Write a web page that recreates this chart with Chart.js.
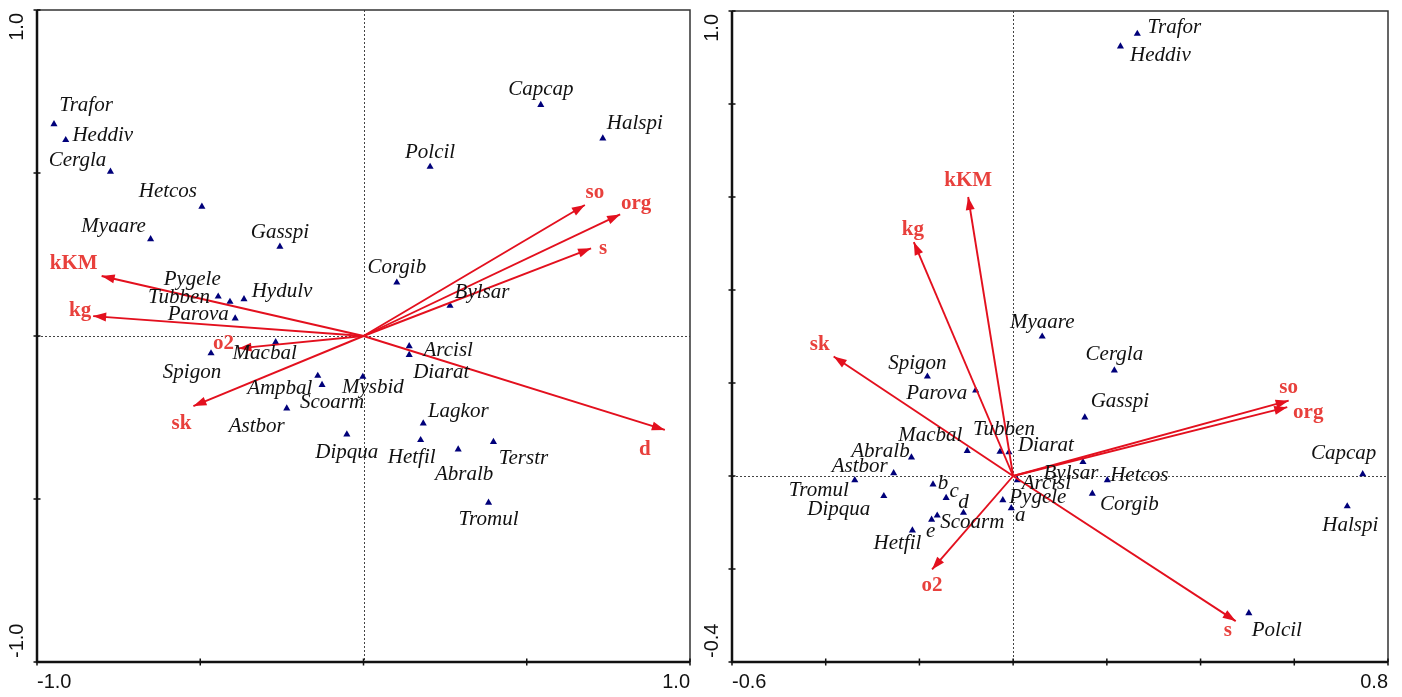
<!DOCTYPE html>
<html>
<head>
<meta charset="utf-8">
<script src="https://cdn.jsdelivr.net/npm/chart.js@4.4.1/dist/chart.umd.min.js"></script>
<style>
  html, body { margin: 0; padding: 0; background: #fff; }
  #wrap { position: relative; width: 1402px; height: 697px; overflow: hidden; }
  canvas { position: absolute; top: 0; }
</style>
</head>
<body>
<div id="wrap">
  <canvas id="ordLeft" width="700" height="697" style="left:0"></canvas>
  <canvas id="ordRight" width="702" height="697" style="left:700px"></canvas>
</div>
<script>
// ---------- Left ordination: species scores ----------
const leftSpecies = ['Trafor','Heddiv','Cergla','Hetcos','Myaare','Gasspi','Pygele','Tubben','Hydulv','Parova',
  'Macbal','Spigon','Ampbal','Scoarm','Astbor','Mysbid','Dipqua','Arcisl','Diarat','Lagkor',
  'Hetfil','Abralb','Terstr','Tromul','Corgib','Bylsar','Polcil','Capcap','Halspi'];
const leftSpeciesX = [-0.948,-0.912,-0.775,-0.495,-0.652,-0.256,-0.445,-0.409,-0.366,-0.393,
  -0.269,-0.467,-0.140,-0.127,-0.235,-0.002,-0.051,0.140,0.140,0.183,
  0.175,0.290,0.398,0.383,0.102,0.265,0.204,0.543,0.733];
const leftSpeciesY = [0.650,0.601,0.504,0.397,0.297,0.274,0.121,0.105,0.113,0.054,
  -0.019,-0.053,-0.122,-0.150,-0.222,-0.125,-0.302,-0.031,-0.058,-0.268,
  -0.319,-0.348,-0.325,-0.511,0.164,0.093,0.519,0.709,0.606];

// Left ordination: environmental variable vectors
const leftVars = ['so','org','s','d','kKM','kg','o2','sk'];
const leftVarsX = [0.678,0.786,0.697,0.923,-0.802,-0.828,-0.383,-0.521];
const leftVarsY = [0.402,0.373,0.269,-0.288,0.184,0.061,-0.038,-0.215];

// ---------- Right ordination: species and site scores ----------
const rightSpecies = ['Trafor','Heddiv','Myaare','Cergla','Gasspi','Capcap','Halspi','Polcil','Hetcos','Corgib',
  'Bylsar','Spigon','Parova','Macbal','Tubben','Diarat','Abralb','Astbor','Tromul','Dipqua',
  'Scoarm','Hetfil','Arcisl','Pygele','a','b','c','d','e'];
const rightSpeciesX = [0.265,0.229,0.062,0.216,0.153,0.746,0.713,0.503,0.201,0.169,
  0.149,-0.183,-0.080,-0.098,-0.028,-0.009,-0.217,-0.255,-0.338,-0.276,
  -0.162,-0.215,0.009,-0.022,-0.004,-0.171,-0.143,-0.106,-0.174];
const rightSpeciesY = [0.951,0.924,0.300,0.227,0.126,0.004,-0.065,-0.295,-0.009,-0.038,
  0.030,0.214,0.184,0.054,0.052,0.051,0.040,0.006,-0.009,-0.043,
  -0.085,-0.117,-0.009,-0.052,-0.069,-0.018,-0.047,-0.079,-0.094];

// Right ordination: environmental variable vectors
const rightVars = ['kKM','kg','sk','o2','s','so','org'];
const rightVarsX = [-0.096,-0.212,-0.383,-0.173,0.475,0.588,0.585];
const rightVarsY = [0.600,0.503,0.257,-0.201,-0.312,0.162,0.148];

// Axis end labels
const leftXTickLabels = ['-1.0','1.0'];
const leftYTickLabels = ['-1.0','1.0'];
const rightXTickLabels = ['-0.6','0.8'];
const rightYTickLabels = ['-0.4','1.0'];

// ---------- Label placement (pixel offsets from each marker) ----------
const leftSpeciesOffsets = [[32,-19],[37,-5],[-33,-11],[-34,-15],[-37,-13],[0,-14],[-26,-17],[-51,-4],[38,-8],[-37,-4],
  [-11,11],[-19,19],[-38,13],[10,18],[-30,18],[10,11],[0,18],[39,4],[32,18],[35,-12],
  [-9,17],[6,25],[30,17],[0,17],[0,-15],[32,-13],[0,-14],[0,-15],[32,-15]];
const leftVarOffsets = [[10,-12],[16,-11],[12,0],[-20,20],[-28,-12],[-13,-6],[-15,-5],[-12,17]];

const rightSpeciesOffsets = [[37,-6],[40,9],[0,-14],[0,-16],[35,-16],[-19,-21],[3,19],[28,17],[32,-5],[37,11],
  [-12,11],[-10,-13],[-39,3],[-37,-15],[4,-22],[37,-7],[-31,-6],[-34,-7],[-36,10],[-45,13],
  [35,7],[-15,13],[29,3],[35,-3],[9,7],[10,-1],[8,-6],[0,-10],[-1,12]];
const rightVarOffsets = [[0,-16],[-1,-13],[-14,-12],[0,16],[-8,9],[0,-13],[21,5]];

const ARROW_RED = '#e3101e';
const LABEL_RED = '#e8403c';
const POINT_BLUE = '#00007a';

// Draws the zero lines, arrowheads, text labels and axis frame on top of the scatter.
const biplotPlugin = {
  id: 'biplot',
  beforeDatasetsDraw(chart) {
    const { ctx, chartArea: a, scales: { x, y } } = chart;
    const x0 = Math.round(x.getPixelForValue(0)) + 0.5;
    const y0 = Math.round(y.getPixelForValue(0)) + 0.5;
    ctx.save();
    ctx.strokeStyle = '#444';
    ctx.lineWidth = 1;
    ctx.setLineDash([2, 2]);
    ctx.beginPath();
    ctx.moveTo(x0, a.top); ctx.lineTo(x0, a.bottom);
    ctx.moveTo(a.left, y0); ctx.lineTo(a.right, y0);
    ctx.stroke();
    ctx.restore();
  },
  afterDatasetsDraw(chart, args, opts) {
    const { ctx, chartArea: a, scales: { x, y } } = chart;
    ctx.save();

    // arrowheads at the tip of every vector
    chart.data.datasets.forEach((ds, i) => {
      if (!ds.isVector) return;
      const pts = chart.getDatasetMeta(i).data;
      const p0 = pts[0], p1 = pts[1];
      const ang = Math.atan2(p1.y - p0.y, p1.x - p0.x);
      const len = 13, half = 4.5;
      ctx.fillStyle = ARROW_RED;
      ctx.beginPath();
      ctx.moveTo(p1.x, p1.y);
      ctx.lineTo(p1.x - len * Math.cos(ang) + half * Math.sin(ang), p1.y - len * Math.sin(ang) - half * Math.cos(ang));
      ctx.lineTo(p1.x - len * Math.cos(ang) - half * Math.sin(ang), p1.y - len * Math.sin(ang) + half * Math.cos(ang));
      ctx.closePath();
      ctx.fill();
      // vector name
      const off = opts.varOffsets[ds.vectorIndex];
      ctx.font = 'bold 21px "Liberation Serif", "Times New Roman", serif';
      ctx.fillStyle = LABEL_RED;
      ctx.textAlign = 'center';
      ctx.textBaseline = 'middle';
      ctx.fillText(ds.label, p1.x + off[0], p1.y + off[1]);
    });

    // species names
    const spIdx = chart.data.datasets.findIndex(d => d.isSpecies);
    const spMeta = chart.getDatasetMeta(spIdx);
    const spData = chart.data.datasets[spIdx].data;
    ctx.font = 'italic 21px "Liberation Serif", "Times New Roman", serif';
    ctx.fillStyle = '#111';
    ctx.textAlign = 'center';
    ctx.textBaseline = 'middle';
    spMeta.data.forEach((el, i) => {
      const off = opts.speciesOffsets[i];
      ctx.fillText(spData[i].name, el.x + off[0], el.y + off[1]);
    });

    // frame: heavy left/bottom axes, light top/right edges
    ctx.strokeStyle = '#333';
    ctx.lineWidth = 1.5;
    ctx.beginPath();
    ctx.moveTo(a.left, a.top); ctx.lineTo(a.right, a.top); ctx.lineTo(a.right, a.bottom);
    ctx.stroke();
    ctx.strokeStyle = '#111';
    ctx.lineWidth = 2.5;
    ctx.beginPath();
    ctx.moveTo(a.left, a.top); ctx.lineTo(a.left, a.bottom); ctx.lineTo(a.right, a.bottom);
    ctx.stroke();

    // tick marks crossing the axes
    ctx.lineWidth = 1.5;
    ctx.beginPath();
    for (let v = x.min; v <= x.max + 1e-9; v += opts.step) {
      const px = x.getPixelForValue(v);
      ctx.moveTo(px, a.bottom - 3.5); ctx.lineTo(px, a.bottom + 3.5);
    }
    for (let v = y.min; v <= y.max + 1e-9; v += opts.step) {
      const py = y.getPixelForValue(v);
      ctx.moveTo(a.left - 3.5, py); ctx.lineTo(a.left + 3.5, py);
    }
    ctx.stroke();

    // axis end labels
    ctx.fillStyle = '#111';
    ctx.font = '20px "Liberation Sans", Arial, sans-serif';
    ctx.textBaseline = 'middle';
    ctx.textAlign = 'left';
    ctx.fillText(opts.xLabels[0], a.left, a.bottom + 20);
    ctx.textAlign = 'right';
    ctx.fillText(opts.xLabels[1], a.right, a.bottom + 20);
    ctx.save();
    ctx.translate(a.left - 20, a.top + 3);
    ctx.rotate(-Math.PI / 2);
    ctx.textAlign = 'right';
    ctx.fillText(opts.yLabels[1], 0, 0);
    ctx.restore();
    ctx.save();
    ctx.translate(a.left - 20, a.bottom - 4);
    ctx.rotate(-Math.PI / 2);
    ctx.textAlign = 'left';
    ctx.fillText(opts.yLabels[0], 0, 0);
    ctx.restore();

    ctx.restore();
  }
};

function buildChart(canvasId, cfg) {
  const speciesData = cfg.names.map((n, i) => ({ x: cfg.xs[i], y: cfg.ys[i], name: n }));
  const vectorSets = cfg.vars.map((v, i) => ({
    type: 'line',
    label: v,
    isVector: true,
    vectorIndex: i,
    data: [{ x: 0, y: 0 }, { x: cfg.vx[i], y: cfg.vy[i] }],
    borderColor: ARROW_RED,
    borderWidth: 1.9,
    pointRadius: 0,
    tension: 0,
    clip: false
  }));
  return new Chart(document.getElementById(canvasId), {
    type: 'scatter',
    data: {
      datasets: [
        ...vectorSets,
        {
          label: 'species',
          isSpecies: true,
          data: speciesData,
          pointStyle: 'triangle',
          pointRadius: 4.1,
          backgroundColor: POINT_BLUE,
          borderColor: POINT_BLUE,
          borderWidth: 0
        }
      ]
    },
    options: {
      responsive: false,
      animation: false,
      layout: { padding: cfg.padding },
      scales: {
        x: { type: 'linear', min: cfg.xMin, max: cfg.xMax, display: false },
        y: { type: 'linear', min: cfg.yMin, max: cfg.yMax, display: false }
      },
      plugins: {
        legend: { display: false },
        tooltip: { enabled: false },
        biplot: {
          step: cfg.step,
          xLabels: cfg.xLabels,
          yLabels: cfg.yLabels,
          speciesOffsets: cfg.spOff,
          varOffsets: cfg.varOff
        }
      }
    },
    plugins: [biplotPlugin]
  });
}

buildChart('ordLeft', {
  names: leftSpecies, xs: leftSpeciesX, ys: leftSpeciesY,
  vars: leftVars, vx: leftVarsX, vy: leftVarsY,
  spOff: leftSpeciesOffsets, varOff: leftVarOffsets,
  xMin: -1, xMax: 1, yMin: -1, yMax: 1, step: 0.5,
  xLabels: leftXTickLabels, yLabels: leftYTickLabels,
  padding: { left: 37, right: 10, top: 10, bottom: 35 }
});

buildChart('ordRight', {
  names: rightSpecies, xs: rightSpeciesX, ys: rightSpeciesY,
  vars: rightVars, vx: rightVarsX, vy: rightVarsY,
  spOff: rightSpeciesOffsets, varOff: rightVarOffsets,
  xMin: -0.6, xMax: 0.8, yMin: -0.4, yMax: 1.0, step: 0.2,
  xLabels: rightXTickLabels, yLabels: rightYTickLabels,
  padding: { left: 32, right: 14, top: 11, bottom: 35 }
});
</script>
</body>
</html>
